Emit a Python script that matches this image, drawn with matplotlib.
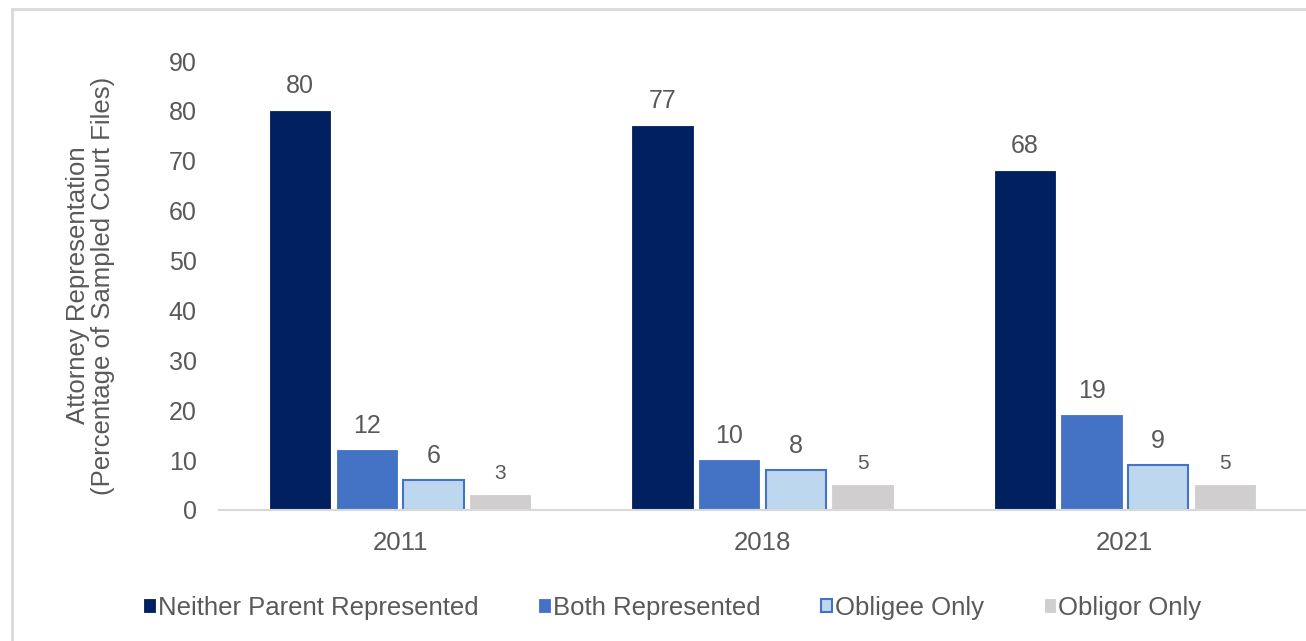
import numpy as np
import matplotlib.pyplot as plt
from matplotlib.patches import Rectangle

plt.rcParams['font.family'] = ['Liberation Sans', 'DejaVu Sans']

years = ['2011', '2018', '2021']
series = ['Neither Parent Represented', 'Both Represented', 'Obligee Only', 'Obligor Only']
neither = [80, 77, 68]
both = [12, 10, 19]
obligee = [6, 8, 9]
obligor = [3, 5, 5]

values = [neither, both, obligee, obligor]
faces = ['#002060', '#4472C4', '#BDD7EE', '#D0CECE']
edges = ['#002060', '#4472C4', '#4472C4', '#D0CECE']
label_sizes = [18, 18, 18, 15]
text_grey = '#595959'


def main():
    fig = plt.figure(figsize=(13.06, 6.41), dpi=100)
    ax = fig.add_axes([0.1677, 0.2044, 0.8323, 0.7004])

    x = np.arange(len(years))
    pitch = 0.184
    width = 0.166
    for i, (name, vals) in enumerate(zip(series, values)):
        pos = x + (i - 1.5) * pitch
        bars = ax.bar(pos, vals, width, color=faces[i], edgecolor=edges[i],
                      linewidth=1.5 if i == 2 else 0.6, label=name)
        for b, v in zip(bars, vals):
            ax.annotate(str(v), (b.get_x() + b.get_width() / 2, v),
                        xytext=(0, 9), textcoords='offset points',
                        ha='center', va='bottom', fontsize=label_sizes[i],
                        color=text_grey)

    ax.set_xlim(-0.5, 2.5)
    ax.set_ylim(0, 90)
    ax.set_yticks(range(0, 91, 10))
    ax.set_xticks(x)
    ax.set_xticklabels(years)
    ax.tick_params(axis='both', length=0, labelsize=18, labelcolor=text_grey)
    ax.tick_params(axis='y', pad=16)
    ax.tick_params(axis='x', pad=15, labelsize=18.5)
    for side in ['top', 'right', 'left']:
        ax.spines[side].set_visible(False)
    ax.spines['bottom'].set_color('#D9D9D9')
    ax.spines['bottom'].set_linewidth(1.5)

    ax.set_ylabel('Attorney Representation\n(Percentage of Sampled Court Files)',
                  fontsize=18.5, color=text_grey, linespacing=1.05)
    ax.yaxis.set_label_coords(-0.096, 0.5)

    fig.legend(loc='center', bbox_to_anchor=(673 / 1306, 1 - 608 / 641), ncol=4,
               frameon=False, fontsize=18.5, labelcolor=text_grey,
               handlelength=0.42, handleheight=0.42, handletextpad=0.12,
               columnspacing=2.35)

    # outer chart frame
    fig.patches.append(Rectangle((12 / 1306, -0.1), 1.2, 1 - 9 / 641 + 0.1,
                                 transform=fig.transFigure, fill=False,
                                 edgecolor='#D9D9D9', linewidth=2))

    fig.savefig('out.png', dpi=100)


if __name__ == '__main__':
    main()
